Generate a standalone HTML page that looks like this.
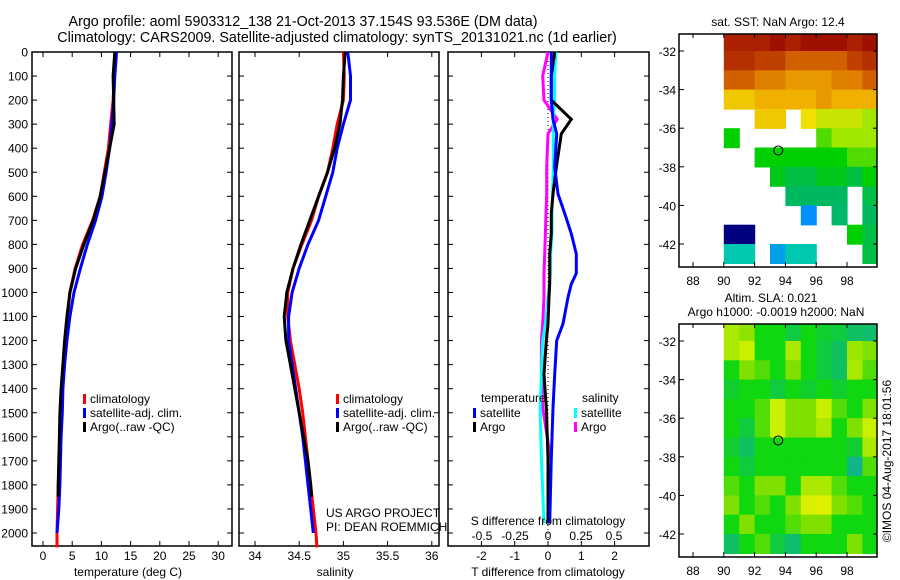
<!DOCTYPE html>
<html><head><meta charset="utf-8">
<style>
html,body{margin:0;padding:0;background:#fff;}
svg{display:block;font-family:"Liberation Sans",sans-serif;}
text{font-size:12px;fill:#000;}
</style></head>
<body>
<svg id="chart" width="900" height="580" viewBox="0 0 900 580" xmlns="http://www.w3.org/2000/svg">
<text x="303" y="26" text-anchor="middle" style="font-size:14.3px">Argo profile: aoml 5903312_138 21-Oct-2013 37.154S 93.536E (DM data)</text>
<text x="337" y="42" text-anchor="middle" style="font-size:14.3px">Climatology: CARS2009. Satellite-adjusted climatology: synTS_20131021.nc (1d earlier)</text>
<g id="layer"></g>
</svg>
<script>
// ---------- data ----------
const depths = [0,100,200,300,400,500,600,700,800,900,1000,1100,1200,1300,1400,1500,1600,1700,1800,1900,2000,2060];
const tempClim = [12.4,12.2,12.0,11.6,11.2,10.5,9.8,8.5,6.8,5.5,4.6,4.2,3.8,3.5,3.2,3.0,2.9,2.8,2.6,2.5,2.4,2.4];
const tempSat  = [12.6,12.3,12.1,11.8,11.4,10.8,10.1,9.0,7.6,6.4,5.3,4.6,4.1,3.7,3.4,3.3,3.1,3.0,2.9,2.7,2.4,null];
const argoDepths = [0,100,200,300,400,500,600,700,800,900,1000,1100,1200,1300,1400,1500,1600,1700,1800,1850];
const tempArgo = [12.3,12.0,12.1,12.2,11.4,10.6,9.8,8.6,7.0,5.6,4.6,4.1,3.7,3.4,3.1,2.9,2.8,2.7,2.6,2.6];
const salClim = [35.0,35.01,35.0,34.93,34.88,34.82,34.72,34.64,34.53,34.43,34.37,34.37,34.4,34.45,34.5,34.54,34.57,34.6,34.63,34.66,34.69,34.7];
const salSat  = [35.05,35.08,35.08,35.0,34.93,34.88,34.8,34.72,34.6,34.5,34.42,34.38,34.38,34.42,34.46,34.5,34.54,34.57,34.6,34.63,34.66,null];
const salArgo = [35.02,35.0,34.99,34.96,34.9,34.82,34.72,34.62,34.52,34.43,34.36,34.33,34.35,34.4,34.45,34.5,34.55,34.6,34.63,34.64];
const diffDepths = [0,100,200,280,340,480,590,670,755,840,920,965,1020,1130,1200,1340,1480,1690,1960];
const dTsat  = [0.1,0.1,0.1,0.15,0.26,0.2,0.3,0.5,0.7,0.85,0.85,0.7,0.6,0.45,0.26,0.2,0.15,0.1,0.05];
const dTargo = [0.2,0.1,0.1,0.7,0.4,0.25,0.15,0.1,0.1,0.05,0.05,0.05,0.03,0.0,-0.05,-0.12,-0.05,0.0,0.0];
const dSsat  = [0.06,0.05,0.05,0.04,0.04,0.04,0.035,0.03,0.03,0.02,0.02,0.01,0.0,-0.02,-0.04,-0.05,-0.06,-0.05,-0.03];
const dSargo = [0.0,-0.04,-0.03,0.07,0.0,-0.01,-0.01,-0.015,-0.02,-0.025,-0.03,-0.03,-0.03,-0.04,-0.05,-0.05,-0.04,0.02,null];
const depthTicks = [0,100,200,300,400,500,600,700,800,900,1000,1100,1200,1300,1400,1500,1600,1700,1800,1900,2000];
const tempTicks = [0,5,10,15,20,25,30];
const salTicks = [34,34.5,35,35.5,36];
const salTickLabels = ['34','34.5','35','35.5','36'];
const dTTicks = [-2,-1,0,1,2];
const dSTicks = [-0.5,-0.25,0,0.25,0.5];
const dSTickLabels = ['-0.5','-0.25','0','0.25','0.5'];
const lonTicks = [88,90,92,94,96,98];
const latTicks = [-32,-34,-36,-38,-40,-42];
const gridLons = [90,91,92,93,94,95,96,97,98,99];
const gridLats = [-31,-32,-33,-34,-35,-36,-37,-38,-39,-40,-41,-42];
const N = null;
const sstGrid = [
 [18,18,18,18.5,18,18.5,18.5,18.5,18,18.5],
 [17.5,17.5,17,17,16.5,16.5,16.5,16.5,17,17.5],
 [16.5,16.5,16,16,15.5,15.5,15.5,16,16,16.5],
 [14.5,14.5,15,15,15,15,15.5,15,15,15],
 [N,N,14.5,14.5,N,14,13.5,13.5,13.5,13],
 [12,N,N,N,N,N,12.5,13,13,13],
 [N,N,12,12,12,12,12,12,12.5,12.5],
 [N,N,N,11.8,11.5,11.5,11.8,11.8,11.5,12],
 [N,N,N,N,11.3,11.3,11.3,11.3,N,11.5],
 [N,N,N,N,N,9.5,N,11.2,N,11.3],
 [6,6,N,N,N,N,N,N,12,11.5],
 [10.5,10.5,N,9.8,10.5,10.5,N,N,N,11.5]];
const slaGrid = [
 [0.08,0.06,0.0,0.0,-0.03,0.0,-0.02,-0.03,-0.05,-0.06],
 [0.08,0.1,0.0,0.0,0.08,0.0,-0.03,-0.05,0.07,0.05],
 [0.0,0.05,0.03,0.0,0.05,0.0,-0.03,-0.05,0.08,0.03],
 [-0.02,0.0,0.0,-0.03,0.0,-0.02,0.0,-0.02,0.0,0.0],
 [0.0,0.0,0.03,0.1,0.05,0.05,0.1,0.03,0.0,0.05],
 [0.0,-0.03,0.03,0.1,0.05,0.05,0.08,0.0,0.05,0.1],
 [-0.02,-0.05,0.0,0.0,0.0,0.0,0.0,0.0,-0.02,0.08],
 [0.0,-0.03,0.0,0.0,0.0,0.0,0.0,0.0,-0.08,0.03],
 [0.03,0.0,0.05,0.05,0.0,0.08,0.08,0.03,0.0,0.0],
 [0.05,0.0,0.03,0.0,0.05,0.12,0.13,0.05,0.03,0.0],
 [0.0,0.05,0.0,0.0,0.03,0.05,0.05,0.0,0.0,0.0],
 [-0.05,0.0,0.03,-0.03,-0.06,0.0,0.0,0.0,0.05,0.0]];
const argoLon = 93.536, argoLat = -37.154;

// ---------- helpers ----------
const NS='http://www.w3.org/2000/svg';
const layer=document.getElementById('layer');
function el(tag,attrs,parent){const e=document.createElementNS(NS,tag);for(const k in attrs)e.setAttribute(k,attrs[k]);(parent||layer).appendChild(e);return e;}
function txt(x,y,s,anchor,size){const t=el('text',{x:x,y:y,'text-anchor':anchor||'middle'});if(size)t.style.fontSize=size+'px';t.textContent=s;return t;}
const yD = d => 52 + d*0.2405;
const PT={x0:32,x1:232}, PS={x0:239,x1:439}, PD={x0:448,x1:649};
const xT = v => 43 + v*5.84;
const xS = v => 255 + (v-34)*88.4;
const xDT = v => 548 + v*33.3;
const xDS = v => 548 + v*132;
const Y0=52, Y1=546;

function frame(p,name){
  const r=el('rect',{x:p.x0,y:Y0,width:p.x1-p.x0,height:Y1-Y0,fill:'none',stroke:'#000','stroke-width':1.5});
  
  
  depthTicks.forEach(d=>{el('line',{x1:p.x0,x2:p.x0+5,y1:yD(d),y2:yD(d),stroke:'#000'});el('line',{x1:p.x1-5,x2:p.x1,y1:yD(d),y2:yD(d),stroke:'#000'});});
}
function xticks(ticks,labels,fx,ly){
  ticks.forEach((v,i)=>{const x=fx(v);el('line',{x1:x,x2:x,y1:Y0,y2:Y0+5,stroke:'#000'});el('line',{x1:x,x2:x,y1:Y1-5,y2:Y1,stroke:'#000'});
    const t=txt(x,ly,labels[i]);
    
    });
}
function line(xs,ys,fx,color,name,w){
  let pts=[];xs.forEach((v,i)=>{if(v!==null&&v!==undefined)pts.push(fx(v).toFixed(1)+','+yD(ys[i]).toFixed(1));});
  const pl=el('polyline',{points:pts.join(' '),fill:'none',stroke:color,'stroke-width':w||3,'stroke-linejoin':'miter'});
  
  
}
function legItem(x,y,color,label){
  el('rect',{x:x,y:y-9,width:3,height:10,fill:color});
  const t=txt(x+7,y,label,'start');
  
  
}

// depth labels
depthTicks.forEach(d=>{const t=txt(28,yD(d)+4.5,String(d),'end');
  
  });

// panel 1 temperature
frame(PT,'temperature-panel');
xticks(tempTicks,tempTicks.map(String),xT,560);
line(tempClim,depths,xT,'#ff0000','temp-climatology-line');
line(tempSat,depths,xT,'#0000ff','temp-satellite-line');
line(tempArgo,argoDepths,xT,'#000000','temp-argo-line');
let t=txt(128,576,'temperature (deg C)');
legItem(83,403,'#ff0000','climatology');legItem(83,417,'#0000ff','satellite-adj. clim.');legItem(83,431,'#000','Argo(..raw -QC)');

// panel 2 salinity
frame(PS,'salinity-panel');
xticks(salTicks,salTickLabels,xS,560);
line(salClim,depths,xS,'#ff0000','sal-climatology-line');
line(salSat,depths,xS,'#0000ff','sal-satellite-line');
line(salArgo,argoDepths,xS,'#000000','sal-argo-line');
t=txt(335,576,'salinity');
legItem(336,403,'#ff0000','climatology');legItem(336,417,'#0000ff','satellite-adj. clim.');legItem(336,431,'#000','Argo(..raw -QC)');
t=txt(326,517,'US ARGO PROJECT','start');
t=txt(326,531,'PI: DEAN ROEMMICH','start');

// panel 3 differences
frame(PD,'difference-panel');
xticks(dTTicks,dTTicks.map(String),xDT,560);
el('line',{x1:548,x2:548,y1:Y0+5,y2:Y1,stroke:'#000','stroke-dasharray':'1,3'});
line(dSargo,diffDepths,xDS,'#ff00ff','sdiff-argo-line');
line(dSsat,diffDepths,xDS,'#00ffff','sdiff-satellite-line');
line(dTargo,diffDepths,xDT,'#000000','tdiff-argo-line');
line(dTsat,diffDepths,xDT,'#0000ff','tdiff-satellite-line');
t=txt(548,576,'T difference from climatology');
t=txt(548,525,'S difference from climatology');
dSTicks.forEach((v,i)=>{const q=txt(xDS(v),540,dSTickLabels[i]);});
t=txt(481,402,'temperature','start');
t=txt(582,402,'salinity','start');
legItem(473,417,'#0000ff','satellite');legItem(473,431,'#000','Argo');
legItem(574,417,'#00ffff','satellite');legItem(574,431,'#ff00ff','Argo');

// ---------- maps ----------
function lerpColor(stops,v){
  if(v<=stops[0][0])return stops[0][1];
  for(let i=1;i<stops.length;i++){if(v<=stops[i][0]){const a=stops[i-1],b=stops[i],f=(v-a[0])/(b[0]-a[0]);
    const ca=a[1],cb=b[1];return 'rgb('+[0,1,2].map(k=>Math.round(ca[k]+(cb[k]-ca[k])*f)).join(',')+')';}}
  return stops[stops.length-1][1];
}
const sstStops=[[6,[0,0,128]],[8,[0,80,255]],[9.5,[0,144,255]],[10.5,[0,200,176]],[11.3,[0,184,96]],[12,[0,208,0]],[13,[160,232,0]],[14,[240,224,0]],[15,[240,176,0]],[16,[224,128,0]],[17,[192,64,0]],[18.5,[160,16,0]]];
const slaStops=[[-0.1,[16,176,160]],[-0.05,[16,192,96]],[0,[16,216,16]],[0.05,[128,224,0]],[0.1,[200,240,0]],[0.15,[240,240,0]]];
function toCss(c){return Array.isArray(c)?'rgb('+c.join(',')+')':c;}
function map(top,grid,stops,name){
  const X0=679,X1=877,Yt=top,Yb=top+233;
  const xL = lon => 693 + (lon-88)*15.4;
  const yL = lat => top+17 + (-32-lat)*19.3;
  const g=el('g',{});
  
  
  const cid='clip'+top;
  const cp=el('clipPath',{id:cid},g);el('rect',{x:X0,y:Yt,width:X1-X0,height:Yb-Yt},cp);
  const cells=el('g',{'clip-path':'url(#'+cid+')'},g);
  grid.forEach((row,r)=>row.forEach((v,c)=>{if(v===null)return;
    const x=xL(gridLons[c]),y=yL(gridLats[r]);
    const rc=el('rect',{x:x.toFixed(1),y:y.toFixed(1),width:16,height:20,fill:toCss(lerpColor(stops,v))},cells);
    
    }));
  el('rect',{x:X0,y:Yt,width:X1-X0,height:Yb-Yt,fill:'none',stroke:'#000','stroke-width':1.5},g);
  lonTicks.forEach(l=>{const x=xL(l);el('line',{x1:x,x2:x,y1:Yb-5,y2:Yb,stroke:'#000'},g);el('line',{x1:x,x2:x,y1:Yt,y2:Yt+4,stroke:'#000'},g);
    const q=txt(x,Yb+18,String(l));});
  latTicks.forEach(l=>{const y=yL(l);el('line',{x1:X0,x2:X0+5,y1:y,y2:y,stroke:'#000'},g);el('line',{x1:X1-4,x2:X1,y1:y,y2:y,stroke:'#000'},g);
    const q=txt(676,y+5,String(l),'end');});
  const m=el('circle',{cx:xL(argoLon),cy:yL(argoLat),r:4.5,fill:'none',stroke:'#000','stroke-width':1},g);
  
  
}
map(34,sstGrid,sstStops,'sst-map');
map(324,slaGrid,slaStops,'sla-map');
t=txt(778,26,'sat. SST: NaN Argo: 12.4');
t=txt(771,302,'Altim. SLA: 0.021');
t=txt(776,316,'Argo h1000: -0.0019 h2000: NaN');
t=el('text',{x:0,y:0,transform:'translate(891,461) rotate(-90)','text-anchor':'middle'});t.textContent='©IMOS 04-Aug-2017 18:01:56';


</script>
</body></html>
